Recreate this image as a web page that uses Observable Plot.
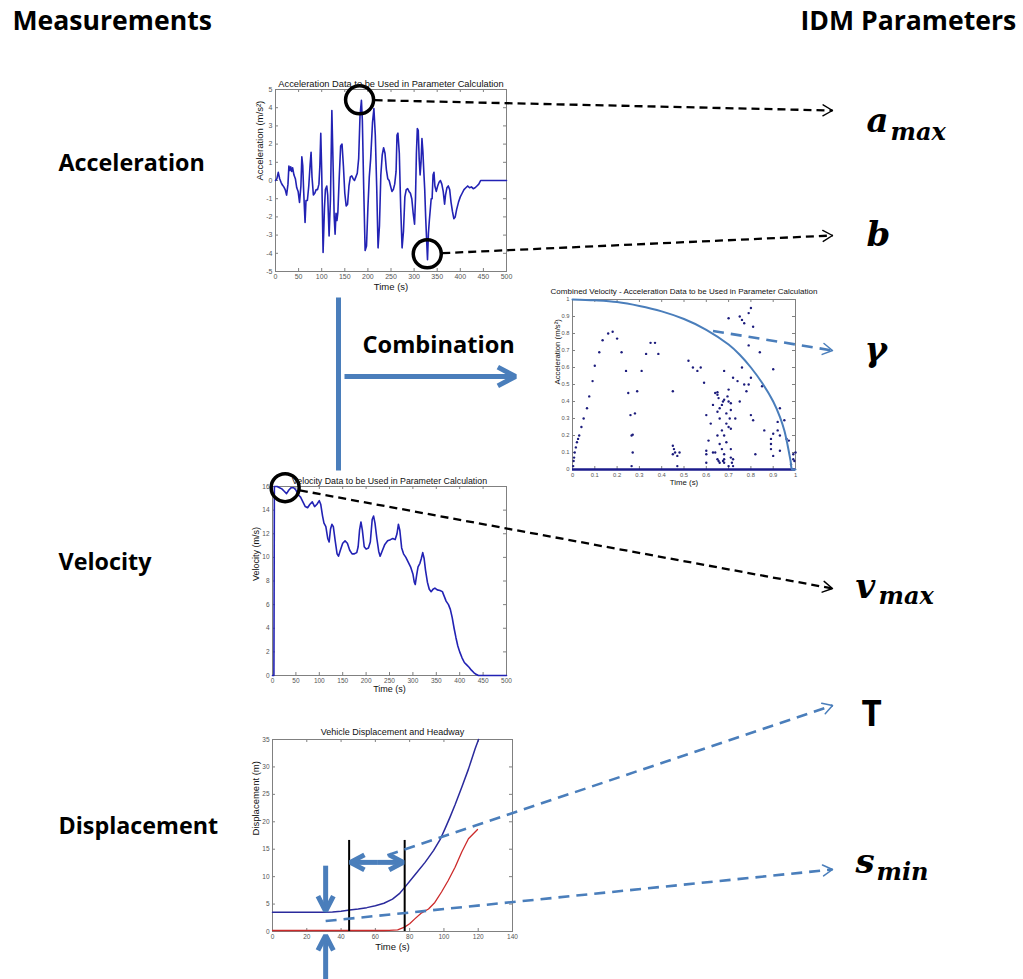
<!DOCTYPE html>
<html><head><meta charset="utf-8">
<script src="https://cdn.jsdelivr.net/npm/d3@7"></script>
<script src="https://cdn.jsdelivr.net/npm/@observablehq/plot@0.6"></script>
<style>
html,body{margin:0;padding:0;background:#fff;}
#page{position:relative;width:1023px;height:979px;overflow:hidden;background:#fff;}
#page > svg{position:absolute;margin:0;max-width:none;}
</style></head><body><div id="page"></div>
<script>
// ---------------- DATA ----------------
const accelerationSeries = [[0,0],[3,0.1],[6,0.45],[9,0.1],[12,-0.1],[15,-0.25],[18,-0.35],[21,-0.5],[24,-0.8],[27,-0.2],[29,0.8],[31,0.55],[33,0.75],[35,0.5],[37,0.7],[40,0.3],[43,0.1],[46,-0.4],[49,-0.6],[52,-1.2],[55,-0.3],[57,1.3],[59,0.8],[61,-0.6],[64,-2.3],[66,-1.1],[69,-1.1],[72,-0.3],[75,0.9],[77,1.55],[79,0.2],[82,-0.8],[85,-0.7],[88,-0.5],[91,-0.5],[94,-0.2],[96,0.8],[98,2.6],[100,0.5],[103,-3.95],[106,-1.5],[108,-0.5],[111,-0.3],[113,-0.8],[116,-3.05],[119,-1.0],[122,3.85],[125,0.5],[127,-2.0],[129,-2.95],[131,-1.8],[133,-2.2],[135,-1.75],[138,0.2],[141,1.9],[144,2.0],[147,0.8],[150,-0.7],[153,-1.4],[156,-1.3],[159,-0.3],[162,0.2],[165,0.25],[168,0.1],[171,0],[174,0.2],[177,0.4],[180,1.2],[183,3.6],[186,4.4],[188,3.3],[191,-0.5],[194,-3.85],[197,-3.6],[200,-1.5],[203,0.2],[206,1.2],[210,3.2],[213,3.95],[216,2.5],[219,-0.3],[222,-3.7],[225,-2.5],[228,0.3],[231,1.4],[234,1.8],[237,1.5],[240,0.6],[243,0.1],[246,0],[249,-0.3],[252,-0.6],[255,-0.5],[258,-0.2],[261,0.5],[263,2.5],[265,2.6],[268,1.5],[271,-1.5],[274,-3.7],[277,-2.8],[280,-0.9],[283,-0.5],[286,-0.45],[289,-0.6],[292,-0.7],[295,-1.0],[298,-1.8],[301,-2.4],[303,-1.0],[305,1.5],[307,2.85],[309,2.75],[311,1.2],[313,0.3],[315,1.0],[317,2.3],[319,1.6],[321,0.5],[323,-0.5],[325,-2.0],[327,-3.2],[329,-4.35],[331,-2.9],[333,-2.2],[335,-1.6],[337,-1.0],[339,-1.0],[341,0.3],[343,0.45],[345,-0.3],[348,-0.6],[351,-0.3],[354,-0.1],[357,0],[360,-0.2],[363,-0.6],[366,-1.3],[368,-0.8],[371,-0.4],[374,-0.3],[377,-0.5],[380,-1.2],[383,-1.7],[386,-2.1],[389,-2.0],[392,-1.6],[396,-1.2],[400,-0.9],[404,-0.7],[408,-0.5],[412,-0.4],[416,-0.3],[420,-0.4],[424,-0.35],[428,-0.45],[432,-0.4],[436,-0.3],[440,-0.2],[444,0],[500,0]];

const velocitySeries = [[0,0],[3,0],[4,16],[10,16],[15,15.9],[20,15.8],[25,15.6],[30,15.4],[35,15.7],[40,15.9],[45,15.9],[50,15.7],[55,15.3],[60,15.1],[65,14.7],[70,14.3],[75,14.2],[80,14.5],[85,14.7],[90,14.3],[95,14.5],[100,14.8],[103,14.5],[107,13.5],[110,12.9],[114,12.6],[118,11.6],[121,11.3],[124,12.4],[127,12.8],[130,12.6],[134,11.4],[138,10.3],[141,10.1],[145,10.6],[150,11.2],[155,11.4],[160,11.2],[165,10.6],[170,10.3],[175,10.3],[180,10.4],[183,10.9],[186,12.3],[189,13.0],[192,12.3],[196,10.9],[200,10.7],[205,10.8],[209,11.3],[213,13.2],[216,13.5],[219,12.9],[223,11.6],[227,10.5],[230,10.1],[235,10.6],[240,11.1],[246,11.4],[252,11.5],[257,11.6],[262,11.5],[266,12.0],[269,12.8],[272,12.3],[276,10.8],[280,10.3],[285,10.0],[290,9.6],[295,9.2],[300,8.6],[303,7.9],[305,7.7],[308,8.5],[311,9.2],[315,9.5],[318,9.9],[321,10.4],[324,9.9],[327,8.9],[331,7.9],[335,7.3],[339,7.1],[343,7.3],[347,7.4],[352,7.25],[358,7.2],[363,7.1],[367,6.7],[371,6.3],[376,6.0],[380,5.6],[384,4.9],[388,4.0],[392,3.2],[396,2.5],[400,2.0],[405,1.5],[410,1.1],[415,0.9],[420,0.7],[425,0.45],[430,0.25],[435,0.1],[440,0],[460,0],[500,0]];

const combinedPoints = [[0.003,0.02],[0.005,0.05],[0.007,0.07],[0.01,0.1],[0.015,0.13],[0.02,0.16],[0.025,0.18],[0.03,0.2],[0.04,0.25],[0.05,0.3],[0.065,0.36],[0.075,0.43],[0.09,0.52],[0.1,0.61],[0.12,0.69],[0.135,0.76],[0.16,0.8],[0.18,0.81],[0.2,0.77],[0.22,0.69],[0.24,0.58],[0.25,0.45],[0.26,0.32],[0.265,0.2],[0.27,0.205],[0.27,0.1],[0.265,0.02],[0.28,0.33],[0.29,0.46],[0.31,0.58],[0.33,0.68],[0.35,0.745],[0.37,0.745],[0.385,0.68],[0.45,0.46],[0.45,0.14],[0.455,0.12],[0.46,0.1],[0.45,0.09],[0.47,0.08],[0.48,0.1],[0.47,0.02],[0.52,0.64],[0.54,0.6],[0.56,0.58],[0.575,0.6],[0.59,0.51],[0.6,0.32],[0.61,0.17],[0.6,0.11],[0.6,0.09],[0.6,0.04],[0.62,0.27],[0.63,0.38],[0.64,0.45],[0.65,0.455],[0.65,0.44],[0.655,0.42],[0.66,0.36],[0.65,0.34],[0.66,0.3],[0.67,0.38],[0.675,0.4],[0.68,0.41],[0.69,0.33],[0.7,0.47],[0.7,0.4],[0.71,0.39],[0.695,0.43],[0.68,0.58],[0.7,0.89],[0.72,0.54],[0.74,0.52],[0.75,0.9],[0.76,0.88],[0.77,0.86],[0.79,0.92],[0.8,0.95],[0.81,0.84],[0.76,0.6],[0.77,0.5],[0.78,0.46],[0.79,0.5],[0.8,0.54],[0.79,0.73],[0.84,0.69],[0.85,0.49],[0.8,0.32],[0.81,0.29],[0.86,0.23],[0.9,0.59],[0.93,0.36],[0.92,0.28],[0.92,0.23],[0.93,0.2],[0.9,0.21],[0.89,0.18],[0.89,0.15],[0.89,0.12],[0.9,0.08],[0.93,0.11],[0.95,0.29],[0.96,0.18],[0.97,0.17],[0.99,0.09],[1.0,0.1],[0.995,0.05],[0.98,0.03],[0.99,0.06],[0.655,0.05],[0.66,0.04],[0.65,0.06],[0.68,0.06],[0.68,0.04],[0.675,0.05],[0.71,0.07],[0.72,0.06],[0.715,0.04],[0.72,0.02],[0.64,0.1],[0.65,0.2],[0.66,0.15],[0.67,0.12],[0.68,0.09],[0.69,0.27],[0.7,0.25],[0.71,0.24],[0.71,0.12],[0.705,0.3],[0.67,0.23],[0.69,0.16],[0.73,0.3],[0.75,0.4],[0.63,0.1],[0.71,0.35],[0.68,0.2],[0.82,0.09],[0.7,0.02]];

const combinedCurve = [[0,1.0],[0.1,0.995],[0.2,0.985],[0.3,0.962],[0.4,0.93],[0.5,0.885],[0.6,0.822],[0.7,0.735],[0.75,0.675],[0.8,0.6],[0.85,0.51],[0.9,0.4],[0.93,0.31],[0.95,0.23],[0.965,0.14],[0.978,0.05],[0.985,0],[1,0]];

const leaderDisplacement = [[0,3.5],[10,3.5],[20,3.5],[30,3.5],[35,3.55],[40,3.7],[45,3.9],[50,4.1],[55,4.35],[60,4.7],[65,5.15],[70,5.9],[74,6.9],[77,8.0],[83,10.3],[89,12.6],[94,14.8],[98,16.9],[100.6,18.7],[103.5,20.8],[106.5,23.1],[110.4,26.3],[114.3,29.6],[118.2,33.3],[120.2,35]];
const followerDisplacement = [[0,0.18],[30,0.18],[65,0.18],[68,0.2],[73,0.3],[77,0.8],[80,1.4],[83,2.3],[87,3.4],[91,4.1],[94.7,5.3],[98.6,7.2],[102.5,9.3],[106.5,11.7],[110.4,14.5],[114.3,16.9],[119.6,18.6]];

const accelerationPeaks = [[182, 4.43], [328.5, -4.03]];   // circled a_max and b
const velocityPeak = [[27, 15.9]];                          // circled v_max
const gammaPoint = [0.63, 0.815];
const headwayTimes = [44.7, 77.1];
const headwayLineTop = 16.6;
const headwayArrow = {from: 61, to: [45.4, 76.3], level: 12.6};
const jamGapArrows = [{t: 31, from: 12.0, to: 3.7}, {t: 31, from: -8.8, to: -0.7}];
const timeGapStart = [67, 13.9];
const jamGapStart = [31, 1.9];

const sectionTitles = ["Measurements", "IDM Parameters"];
const measurementNames = ["Acceleration", "Velocity", "Displacement"];
const combinationLabel = "Combination";
const parameterSymbols = ["a", "b", "γ", "v", "T", "s"];
const parameterSubscripts = ["max", "", "", "max", "", "min"];

// ---------------- LAYOUT ----------------
const L = {
  acc:  {left:233, top:66,  width:285, height:230, ml:42, mr:12, mt:23, mb:25},
  comb: {left:545, top:284, width:275, height:206, ml:27, mr:25, mt:15, mb:21},
  vel:  {left:233, top:468, width:285, height:232, ml:39, mr:12, mt:18, mb:25},
  disp: {left:233, top:718, width:290, height:240, ml:39, mr:11, mt:21, mb:27}
};
const BLUE = "#4a7ebb";
const page = document.getElementById("page");

function panel(lay, cfg) {
  const pw = lay.width - lay.ml - lay.mr, ph = lay.height - lay.mt - lay.mb, tk = 3;
  const axisColor = "#808080";
  const chart = Plot.plot({
    width: lay.width, height: lay.height,
    marginLeft: lay.ml, marginRight: lay.mr, marginTop: lay.mt, marginBottom: lay.mb,
    style: {fontFamily: "'Liberation Sans', Arial, sans-serif", background: "transparent", overflow: "visible"},
    x: {domain: cfg.xDomain}, y: {domain: cfg.yDomain},
    marks: [
      Plot.frame({stroke: axisColor}),
      Plot.tickX(cfg.xTicks, {x: d => d, insetTop: ph - tk, stroke: axisColor}),
      Plot.tickX(cfg.xTicks, {x: d => d, insetBottom: ph - tk, stroke: axisColor}),
      Plot.tickY(cfg.yTicks, {y: d => d, insetRight: pw - tk, stroke: axisColor}),
      Plot.tickY(cfg.yTicks, {y: d => d, insetLeft: pw - tk, stroke: axisColor}),
      Plot.axisX(cfg.xTicks, {tickSize: 0, tickPadding: 3, tickFormat: d => String(d), fontSize: cfg.tickFont, color: "#555", label: null}),
      Plot.axisY(cfg.yTicks, {tickSize: 0, tickPadding: 3, tickFormat: d => String(d), fontSize: cfg.tickFont, color: "#555", label: null}),
      ...cfg.marks,
      Plot.text([cfg.title], {frameAnchor: "top", dy: cfg.titleDy, fontSize: cfg.titleFont, fill: "#111", lineAnchor: "bottom"}),
      Plot.text([cfg.xLabel], {frameAnchor: "bottom", dy: cfg.xLabelDy, fontSize: cfg.labelFont, fill: "#111", lineAnchor: "middle"}),
      Plot.text([cfg.yLabel], {frameAnchor: "left", dx: -cfg.yLabelDx, rotate: -90, fontSize: cfg.labelFont, fill: "#111"})
    ]
  });
  chart.style.left = lay.left + "px";
  chart.style.top = lay.top + "px";
  page.appendChild(chart);
  return chart;
}

const accChart = panel(L.acc, {
  xDomain: [0, 500], yDomain: [-5, 5],
  xTicks: d3.range(0, 501, 50), yTicks: d3.range(-5, 6, 1),
  tickFont: 7, titleFont: 9.3, labelFont: 9.5, titleDy: -3, xLabelDy: 15, yLabelDx: 16,
  title: "Acceleration Data to be Used in Parameter Calculation",
  xLabel: "Time (s)", yLabel: "Acceleration (m/s²)",
  marks: [
    Plot.line(accelerationSeries, {x: d => d[0], y: d => d[1], stroke: "#2222b4", strokeWidth: 1.6}),
    Plot.dot(accelerationPeaks, {x: d => d[0], y: d => d[1], r: 14, stroke: "#000", strokeWidth: 3.5, fill: "none"})
  ]
});

const combChart = panel(L.comb, {
  xDomain: [0, 1], yDomain: [0, 1],
  xTicks: [0,0.1,0.2,0.3,0.4,0.5,0.6,0.7,0.8,0.9,1], yTicks: [0,0.1,0.2,0.3,0.4,0.5,0.6,0.7,0.8,0.9,1],
  tickFont: 5.8, titleFont: 8, labelFont: 7.8, titleDy: -6, xLabelDy: 13, yLabelDx: 15,
  title: "Combined Velocity - Acceleration Data to be Used in Parameter Calculation",
  xLabel: "Time (s)", yLabel: "Acceleration (m/s²)",
  marks: [
    Plot.ruleY([0], {stroke: "#1c1c8c", strokeWidth: 2.4}),
    Plot.dot(combinedPoints, {x: d => d[0], y: d => d[1], r: 1.2, fill: "#1c1c7c", stroke: "none"}),
    Plot.line(combinedCurve, {x: d => d[0], y: d => d[1], stroke: BLUE, strokeWidth: 2, curve: "catmull-rom"})
  ]
});

const velChart = panel(L.vel, {
  xDomain: [0, 500], yDomain: [0, 16],
  xTicks: d3.range(0, 501, 50), yTicks: d3.range(0, 17, 2),
  tickFont: 6.5, titleFont: 8.8, labelFont: 9, titleDy: -3, xLabelDy: 14, yLabelDx: 16,
  title: "Velocity Data to be Used in Parameter Calculation",
  xLabel: "Time (s)", yLabel: "Velocity (m/s)",
  marks: [
    Plot.line(velocitySeries, {x: d => d[0], y: d => d[1], stroke: "#2222b4", strokeWidth: 1.6}),
    Plot.dot(velocityPeak, {x: d => d[0], y: d => d[1], r: 14, stroke: "#000", strokeWidth: 3.5, fill: "none"})
  ]
});

const dispChart = panel(L.disp, {
  xDomain: [0, 140], yDomain: [0, 35],
  xTicks: d3.range(0, 141, 20), yTicks: d3.range(0, 36, 5),
  tickFont: 6.5, titleFont: 9, labelFont: 9.5, titleDy: -5, xLabelDy: 15, yLabelDx: 17,
  title: "Vehicle Displacement and Headway",
  xLabel: "Time (s)", yLabel: "Displacement (m)",
  marks: [
    Plot.line(followerDisplacement, {x: d => d[0], y: d => d[1], stroke: "#cc2a2a", strokeWidth: 1.3}),
    Plot.line(leaderDisplacement, {x: d => d[0], y: d => d[1], stroke: "#2a2a9c", strokeWidth: 1.5}),
    Plot.ruleX(headwayTimes, {x: d => d, y1: 0, y2: headwayLineTop, stroke: "#000", strokeWidth: 2})
  ]
});

// ---------------- OVERLAY (arrows & labels) ----------------
function toPage(chart, lay, p) {
  return [lay.left + chart.scale("x").apply(p[0]), lay.top + chart.scale("y").apply(p[1])];
}
function arrowParts(id, p1, p2, len, ang, shorten) {
  const dx = p2[0]-p1[0], dy = p2[1]-p1[1], D = Math.hypot(dx, dy), ux = dx/D, uy = dy/D;
  const a = ang*Math.PI/180, c = Math.cos(a), s = Math.sin(a);
  const w1 = [p2[0] - len*(ux*c - uy*s), p2[1] - len*(ux*s + uy*c)];
  const w2 = [p2[0] - len*(ux*c + uy*s), p2[1] - len*(uy*c - ux*s)];
  return {
    shaft: {x1: p1[0], y1: p1[1], x2: p2[0]-ux*shorten, y2: p2[1]-uy*shorten},
    head: [w1, p2, w2].map(p => ({id, x: p[0], y: p[1]}))
  };
}
function fromCircle(center, target, r) {
  const dx = target[0]-center[0], dy = target[1]-center[1], D = Math.hypot(dx, dy);
  return [center[0] + dx/D*r, center[1] + dy/D*r];
}

const paramTips = {a:[832,110], b:[832,235], g:[832,350], v:[832,588], T:[832,705], s:[832,869]};

const aC = toPage(accChart, L.acc, accelerationPeaks[0]);
const bC = toPage(accChart, L.acc, accelerationPeaks[1]);
const vC = toPage(velChart, L.vel, velocityPeak[0]);
const blackArrows = [
  arrowParts("a", fromCircle(aC, paramTips.a, 15), paramTips.a, 11, 30, 0),
  arrowParts("b", fromCircle(bC, paramTips.b, 15), paramTips.b, 11, 30, 0),
  arrowParts("v", fromCircle(vC, paramTips.v, 15), paramTips.v, 11, 30, 0)
];
const blueDashArrows = [
  arrowParts("g", toPage(combChart, L.comb, gammaPoint), paramTips.g, 11, 30, 0),
  arrowParts("T", toPage(dispChart, L.disp, timeGapStart), paramTips.T, 11, 30, 0),
  arrowParts("s", toPage(dispChart, L.disp, jamGapStart), paramTips.s, 11, 30, 0)
];
const thickArrows = [
  arrowParts("comb", [344, 376], [515, 376], 20, 28, 3),
  ...jamGapArrows.map((d, i) => arrowParts("jam" + i, toPage(dispChart, L.disp, [d.t, d.from]), toPage(dispChart, L.disp, [d.t, d.to]), 17, 27, 3)),
  ...headwayArrow.to.map((t, i) => arrowParts("hw" + i, toPage(dispChart, L.disp, [headwayArrow.from, headwayArrow.level]), toPage(dispChart, L.disp, [t, headwayArrow.level]), 16, 28, 3))
];
const stem = [{x1: 338, y1: 297, x2: 338, y2: 470}];

const sectionLayout = [{x: 12, y: 29}, {x: 800, y: 29}];
const measurementLayout = [{x: 58, y: 170}, {x: 58, y: 569}, {x: 58, y: 833}];
const symbolLayout = [{x:866,y:131,k:"serif"},{x:866,y:245,k:"serif"},{x:864,y:360,k:"serif"},{x:855,y:597,k:"serif"},{x:861,y:725,k:"sans"},{x:855,y:872,k:"serif"}];
const subLayout = [{x:890,y:139},null,null,{x:878,y:603},null,{x:876,y:879}];

const symbolData = parameterSymbols.map((s, i) => ({s, ...symbolLayout[i]}));
const subData = parameterSubscripts.map((s, i) => ({s, ...(subLayout[i] || {})})).filter(d => d.s);

const overlay = Plot.plot({
  width: 1023, height: 979, margin: 0,
  x: {domain: [0, 1023], range: [0, 1023], axis: null},
  y: {domain: [0, 979], range: [0, 979], axis: null},
  style: {background: "transparent", overflow: "visible"},
  marks: [
    Plot.link(blackArrows.map(d => d.shaft), {x1: "x1", y1: "y1", x2: "x2", y2: "y2", stroke: "#000", strokeWidth: 2.3, strokeDasharray: "8,5"}),
    Plot.line(blackArrows.flatMap(d => d.head), {x: "x", y: "y", z: "id", stroke: "#000", strokeWidth: 1.4}),
    Plot.link(blueDashArrows.map(d => d.shaft), {x1: "x1", y1: "y1", x2: "x2", y2: "y2", stroke: BLUE, strokeWidth: 2.6, strokeDasharray: "11,7"}),
    Plot.line(blueDashArrows.flatMap(d => d.head), {x: "x", y: "y", z: "id", stroke: BLUE, strokeWidth: 1.5}),
    Plot.link(stem, {x1: "x1", y1: "y1", x2: "x2", y2: "y2", stroke: BLUE, strokeWidth: 5}),
    Plot.link(thickArrows.map(d => d.shaft), {x1: "x1", y1: "y1", x2: "x2", y2: "y2", stroke: BLUE, strokeWidth: 5}),
    Plot.line(thickArrows.flatMap(d => d.head), {x: "x", y: "y", z: "id", stroke: BLUE, strokeWidth: 5, strokeLinejoin: "miter", strokeLinecap: "butt"}),
    Plot.text(sectionTitles, {x: (d, i) => sectionLayout[i].x, y: (d, i) => sectionLayout[i].y, textAnchor: "start", lineAnchor: "bottom", fontSize: 26.6, fontWeight: "bold", fontFamily: "'Open Sans', sans-serif", fill: "#000"}),
    Plot.text(measurementNames, {x: (d, i) => measurementLayout[i].x, y: (d, i) => measurementLayout[i].y, textAnchor: "start", lineAnchor: "bottom", fontSize: 23.3, fontWeight: "bold", fontFamily: "'Open Sans', sans-serif", fill: "#000"}),
    Plot.text([combinationLabel], {x: 362, y: 352, textAnchor: "start", lineAnchor: "bottom", fontSize: 23.6, fontWeight: "bold", fontFamily: "'Open Sans', sans-serif", fill: "#000"}),
    Plot.text(symbolData.filter(d => d.k === "serif"), {x: "x", y: "y", text: "s", textAnchor: "start", lineAnchor: "bottom", fontSize: 34, fontWeight: "bold", fontStyle: "italic", fontFamily: "'DejaVu Serif', serif", fill: "#000"}),
    Plot.text(symbolData.filter(d => d.k === "sans"), {x: "x", y: "y", text: "s", textAnchor: "start", lineAnchor: "bottom", fontSize: 35, fontWeight: "bold", fontFamily: "'Open Sans', sans-serif", fill: "#000"}),
    Plot.text(subData, {x: "x", y: "y", text: "s", textAnchor: "start", lineAnchor: "bottom", fontSize: 24, fontWeight: "bold", fontStyle: "italic", fontFamily: "'DejaVu Serif', serif", fill: "#000"})
  ]
});
overlay.style.left = "0px";
overlay.style.top = "0px";
page.appendChild(overlay);
</script>
</body></html>
